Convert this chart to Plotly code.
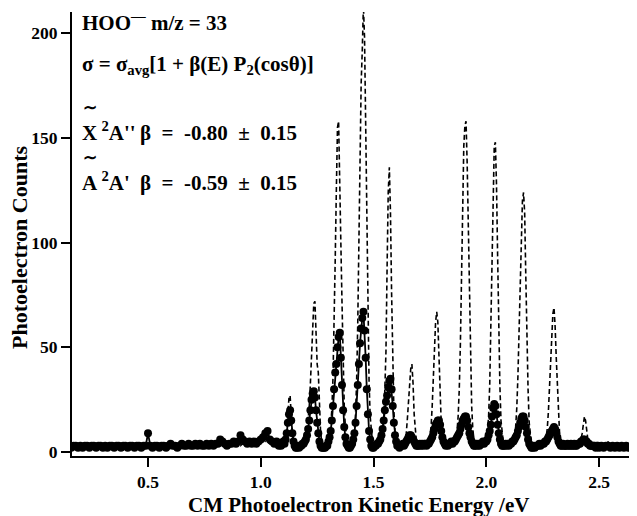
import numpy as np
import plotly.graph_objects as go

# ---------------- energy grid (eV) ----------------
energy_low = np.round(0.16 + 0.01 * np.arange(92), 3)      # 0.16 .. 1.07
energy_mid = np.round(1.08 + 0.005 * np.arange(285), 3)    # 1.08 .. 2.50
energy_high = np.round(2.51 + 0.01 * np.arange(18), 3)     # 2.51 .. 2.68

# ---------------- dashed spectrum (counts) ----------------
dashed_low = [
    2, 1, 2, 3, 2, 1, 2, 2, 3, 2,
    1, 2, 3, 2, 2, 1, 2, 3, 2, 2,
    2, 3, 2, 1, 2, 2, 3, 2, 2, 3,
    2, 2, 3, 2, 3, 2, 2, 3, 2, 2,
    3, 2, 2, 3, 2, 3, 2, 2, 3, 2,
    2, 3, 2, 3, 3, 2, 3, 2, 3, 3,
    3, 2, 3, 3, 4, 3, 3, 4, 3, 3,
    4, 3, 4, 5, 4, 3, 4, 5, 4, 4,
    5, 4, 5, 4, 6, 7, 5, 4, 5, 4,
    5, 4,
]
dashed_mid = [
    3, 2, 4, 3, 5, 4, 6, 10, 18, 26,            # 1.080
    27, 16, 8, 5, 4, 3, 4, 3, 4, 3,             # 1.130
    4, 5, 4, 5, 6, 9, 14, 22, 33, 48,           # 1.180
    62, 71, 72, 56, 42, 38, 22, 10, 5, 3,       # 1.230
    3, 2, 3, 4, 5, 7, 12, 20, 35, 58,           # 1.280
    92, 125, 155, 158, 135, 100, 72, 42, 22, 12,  # 1.330
    7, 4, 3, 3, 4, 5, 7, 10, 18, 34,            # 1.380
    62, 110, 160, 176, 192, 213, 198, 150, 102, 62,  # 1.430
    34, 17, 9, 5, 4, 3, 4, 3, 4, 5,            # 1.480
    5, 6, 8, 15, 30, 48, 88, 124, 136, 114,     # 1.530
    76, 42, 20, 10, 6, 4, 4, 5, 4, 5,           # 1.580
    5, 6, 6, 9, 16, 26, 34, 40, 42, 33,         # 1.630
    18, 9, 5, 4, 5, 4, 5, 4, 5, 4,              # 1.680
    5, 4, 5, 6, 8, 12, 22, 38, 52, 62,          # 1.730
    67, 62, 46, 28, 14, 8, 5, 4, 5, 4,          # 1.780
    5, 6, 5, 4, 5, 6, 5, 7, 10, 17,             # 1.830
    30, 52, 86, 120, 146, 156, 158, 138, 108, 74,  # 1.880
    44, 22, 11, 6, 5, 4, 5, 4, 5, 6,            # 1.930
    5, 6, 5, 6, 7, 10, 17, 32, 62, 100,         # 1.980
    134, 146, 148, 128, 94, 60, 32, 15, 8, 5,   # 2.030
    4, 5, 4, 5, 4, 5, 4, 5, 5, 7,              # 2.080
    12, 21, 36, 56, 80, 104, 120, 124, 114, 84,  # 2.130
    54, 30, 14, 7, 4, 4, 3, 4, 3, 4,            # 2.180
    3, 4, 3, 4, 4, 5, 5, 7, 11, 19,             # 2.230
    31, 46, 58, 66, 69, 60, 45, 30, 16, 8,      # 2.280
    5, 4, 3, 4, 3, 4, 3, 3, 4, 3,              # 2.330
    4, 3, 4, 3, 4, 3, 4, 5, 6, 9,              # 2.380
    13, 17, 15, 10, 6, 4, 3, 3, 4, 3,           # 2.430
    3, 2, 3, 2, 3,                              # 2.480
]
dashed_high = [3, 4, 3, 5, 3, 2, 3, 2, 3, 2, 3, 2, 2, 3, 2, 2, 3, 2]

# ---------------- dotted spectrum (counts) ----------------
dots_low = [
    2, 3, 3, 2, 3, 2, 3, 3, 2, 3,
    3, 2, 3, 3, 2, 3, 2, 3, 3, 2,
    3, 3, 2, 3, 3, 2, 3, 3, 2, 3,
    3, 2, 3, 3, 9, 3, 2, 3, 3, 2,
    3, 3, 2, 3, 4, 3, 3, 2, 3, 4,
    3, 3, 4, 3, 3, 4, 3, 4, 3, 3,
    4, 3, 4, 3, 4, 4, 6, 5, 4, 3,
    4, 4, 5, 4, 5, 8, 6, 5, 4, 5,
    4, 5, 4, 5, 6, 7, 9, 10, 6, 5,
    4, 5,
]
dots_mid = [
    3, 4, 3, 4, 5, 4, 6, 9, 14, 18,             # 1.080
    20, 15, 9, 5, 3, 2, 2, 3, 2, 3,             # 1.130
    3, 4, 4, 5, 6, 8, 11, 15, 20, 25,           # 1.180
    28, 29, 26, 20, 14, 9, 5, 3, 2, 2,          # 1.230
    2, 2, 3, 3, 5, 7, 10, 15, 22, 30,           # 1.280
    38, 42, 50, 55, 57, 45, 32, 20, 12, 7,      # 1.330
    4, 3, 2, 2, 3, 4, 6, 9, 14, 22,             # 1.380
    32, 42, 52, 59, 64, 67, 58, 45, 30, 18,     # 1.430
    10, 6, 3, 2, 2, 3, 3, 4, 4, 5,              # 1.480
    6, 8, 11, 15, 20, 24, 27, 31, 34, 35,       # 1.530
    30, 22, 14, 8, 5, 3, 3, 2, 3, 3,            # 1.580
    4, 3, 4, 5, 6, 7, 8, 8, 7, 6,               # 1.630
    5, 4, 3, 3, 3, 4, 3, 4, 3, 4,               # 1.680
    4, 3, 4, 4, 5, 6, 7, 9, 11, 13,             # 1.730
    14, 15, 15, 13, 10, 7, 5, 4, 3, 4,          # 1.780
    3, 4, 4, 5, 4, 5, 5, 6, 7, 8,               # 1.830
    9, 11, 13, 15, 16, 17, 17, 15, 12, 9,       # 1.880
    7, 5, 4, 3, 3, 4, 3, 4, 3, 4,               # 1.930
    4, 5, 4, 5, 5, 6, 8, 10, 13, 17,            # 1.980
    21, 23, 22, 18, 13, 9, 6, 4, 3, 3,          # 2.030
    3, 4, 3, 4, 3, 4, 4, 5, 5, 6,               # 2.080
    7, 8, 10, 12, 14, 16, 17, 17, 15, 12,       # 2.130
    9, 6, 4, 3, 2, 2, 3, 2, 3, 3,               # 2.180
    3, 4, 3, 4, 4, 4, 5, 5, 6, 7,               # 2.230
    8, 9, 10, 11, 12, 11, 9, 7, 5, 4,           # 2.280
    3, 3, 4, 3, 3, 3, 4, 3, 3, 4,               # 2.330
    3, 3, 4, 3, 3, 4, 4, 4, 5, 5,               # 2.380
    6, 6, 5, 5, 4, 4, 3, 3, 3, 3,               # 2.430
    3, 2, 3, 3, 2,                              # 2.480
]
dots_high = [3, 2, 3, 3, 2, 3, 2, 3, 2, 3, 2, 3, 2, 2, 3, 2, 3, 2]

x_ticks = [0.5, 1.0, 1.5, 2.0, 2.5]
y_ticks = [0, 50, 100, 150, 200]

energy = np.concatenate([energy_low, energy_mid, energy_high])
dashed = dashed_low + dashed_mid + dashed_high
dots = dots_low + dots_mid + dots_high

FONT = "Liberation Serif"
NB = "\u00a0"
THIN = "\u2009"

fig = go.Figure()
fig.add_trace(go.Scatter(
    x=energy, y=dashed, mode="lines",
    line=dict(color="black", width=1.6, dash="5px,3px"),
    showlegend=False, hoverinfo="skip",
))
fig.add_trace(go.Scatter(
    x=energy, y=dots, mode="lines+markers",
    line=dict(color="black", width=1.8),
    marker=dict(color="black", size=8),
    showlegend=False, hoverinfo="skip",
))

axis_common = dict(
    showgrid=False, zeroline=False, showline=True, linecolor="black",
    linewidth=2, ticks="outside", ticklen=9, tickwidth=1.5, tickcolor="black",
    tickfont=dict(family=FONT, size=17.5, color="black", weight="bold"),
)
fig.update_xaxes(range=[0.163, 2.668], tickvals=x_ticks,
                 ticktext=[f"{v:.1f}" for v in x_ticks], **axis_common)
fig.update_yaxes(range=[-1.9, 210.2], tickvals=y_ticks,
                 ticktext=[str(v) for v in y_ticks], **axis_common)

# page pixel -> paper coordinates (plot area spans x 72..637, y 12..456 on the page)
def px_x(px):
    return (px - 72) / 565.0

def px_y(py):
    return (456 - py) / 444.0

afont = dict(family=FONT, size=21, color="black", weight="bold")
tfont = dict(family=FONT, size=17, color="black", weight="bold")
beta_sep = NB * 2
annotations = [
    dict(text="HOO<sup>—</sup>" + NB + "m/z = 33", x=px_x(80), y=px_y(22), font=afont),
    dict(text="σ = σ<sub>avg</sub>[1 + β(E) P<sub>2</sub>(cosθ)]", x=px_x(80), y=px_y(65),
         font=afont),
    dict(text="X" + THIN + "<sup>2</sup>A''", x=px_x(80), y=px_y(131), font=afont),
    dict(text="β" + beta_sep + "=" + beta_sep + "-0.80" + beta_sep + "±" + beta_sep + "0.15",
         x=px_x(138), y=px_y(133), font=afont),
    dict(text="A" + THIN + "<sup>2</sup>A'", x=px_x(80), y=px_y(181), font=afont),
    dict(text="β" + beta_sep + "=" + beta_sep + "-0.59" + beta_sep + "±" + beta_sep + "0.15",
         x=px_x(138), y=px_y(183), font=afont),
    dict(text="∼", x=px_x(81), y=px_y(107), font=tfont),
    dict(text="∼", x=px_x(81), y=px_y(157), font=tfont),
]
ann_list = []
for a in annotations:
    ann_list.append(dict(xref="paper", yref="paper", xanchor="left", yanchor="middle",
                         showarrow=False, **a))
ann_list.append(dict(text="CM Photoelectron Kinetic Energy /eV", xref="paper", yref="paper",
                     x=px_x(358), y=px_y(505), xanchor="center", yanchor="middle",
                     showarrow=False, font=dict(family=FONT, size=21, color="black", weight="bold")))
ann_list.append(dict(text="Photoelectron Counts", xref="paper", yref="paper",
                     x=px_x(19), y=px_y(247), xanchor="center", yanchor="middle",
                     textangle=-90, showarrow=False,
                     font=dict(family=FONT, size=22, color="black", weight="bold")))

# The page body has an 8px margin, so the figure is 8px smaller and margins are
# reduced by 8px to keep the plot area at page pixels x 72..637, y 12..456.
fig.update_layout(
    width=629, height=508,
    margin=dict(l=64, r=0, t=4, b=60),
    plot_bgcolor="white", paper_bgcolor="white",
    annotations=ann_list,
)

fig.write_html("out.html")
